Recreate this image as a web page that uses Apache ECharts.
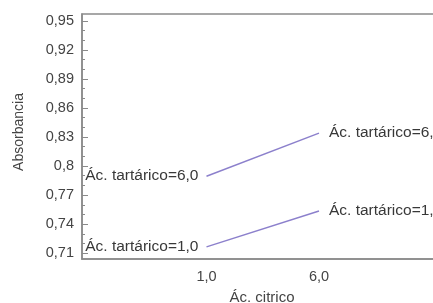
<!DOCTYPE html>
<html>
<head>
<meta charset="utf-8">
<script src="https://cdn.jsdelivr.net/npm/echarts@6/dist/echarts.min.js"></script>
<style>
  html, body { margin: 0; padding: 0; background: #fff; }
  #chart { width: 433px; height: 303px; }
</style>
</head>
<body>
<div id="chart"></div>
<script>
  // values
  var citrico = [1.0, 6.0];
  var tartarico1 = [0.7165, 0.7535];
  var tartarico6 = [0.7895, 0.834];
  var seriesNames = ['Ác. tartárico=1,0', 'Ác. tartárico=6,0'];
  var yTicks = [0.71, 0.74, 0.77, 0.8, 0.83, 0.86, 0.89, 0.92, 0.95];
  var yMinorTicks = [0.72, 0.73, 0.75, 0.76, 0.78, 0.79, 0.81, 0.82, 0.84, 0.85,
                     0.87, 0.88, 0.90, 0.91, 0.93, 0.94];

  var fontName = '"Liberation Sans", Arial, sans-serif';
  var axisGrey = '#8a8a8a';
  var lineColor = '#8c80cc';

  var comma = function(v) {
    return String(v).replace('.', ',');
  };

  var makeSerie = function(name, values) {
    var data = [];
    for (var i = 0; i < citrico.length; i++) {
      var item = { value: [citrico[i], values[i]] };
      item.label = {
        show: true,
        position: i === 0 ? 'left' : 'right',
        distance: i === 0 ? 8 : 10,
        formatter: name,
        color: '#383838',
        fontFamily: fontName,
        fontSize: 15.5
      };
      data.push(item);
    }
    return {
      type: 'line',
      name: name,
      data: data,
      symbol: 'circle',
      symbolSize: 0,
      showSymbol: true,
      lineStyle: { color: lineColor, width: 1.5 },
      itemStyle: { color: lineColor },
      yAxisIndex: 0
    };
  };

  var chart = echarts.init(document.getElementById('chart'));
  chart.setOption({
    animation: false,
    grid: {
      left: 82, top: 14, right: -9, bottom: 44,
      outerBoundsMode: 'none',
      containLabel: false,
      show: true, borderColor: axisGrey, borderWidth: 1.5
    },
    xAxis: {
      type: 'value',
      min: -4.533, max: 11.467,
      name: 'Ác. citrico',
      nameLocation: 'middle',
      nameGap: 31,
      nameTextStyle: { color: '#444', fontFamily: fontName, fontSize: 15 },
      axisLine: { show: true, onZero: false, lineStyle: { color: axisGrey, width: 1.5 } },
      axisTick: { show: false },
      splitLine: { show: false },
      axisLabel: {
        customValues: citrico,
        margin: 10,
        color: '#444',
        fontFamily: fontName,
        fontSize: 14.5,
        formatter: function(v) { return v.toFixed(1).replace('.', ','); }
      }
    },
    yAxis: [{
      type: 'value',
      min: 0.704, max: 0.957,
      name: 'Absorbancia',
      nameLocation: 'middle',
      nameGap: 56,
      nameTextStyle: { color: '#444', fontFamily: fontName, fontSize: 14, padding: [0, 0, 0, 9] },
      axisLine: { show: true, onZero: false, lineStyle: { color: axisGrey, width: 1.5 } },
      axisTick: { show: true, inside: true, length: 6, customValues: yTicks,
                  lineStyle: { color: axisGrey } },
      splitLine: { show: false },
      axisLabel: {
        customValues: yTicks,
        margin: 8,
        color: '#444',
        fontFamily: fontName,
        fontSize: 14.5,
        formatter: comma
      }
    }, {
      type: 'value',
      position: 'left',
      min: 0.704, max: 0.957,
      axisLine: { show: false, onZero: false },
      axisTick: { show: true, inside: true, length: 3, customValues: yMinorTicks,
                  lineStyle: { color: axisGrey } },
      axisLabel: { show: false },
      splitLine: { show: false }
    }],
    series: [
      makeSerie(seriesNames[0], tartarico1),
      makeSerie(seriesNames[1], tartarico6)
    ]
  });
</script>
</body>
</html>
